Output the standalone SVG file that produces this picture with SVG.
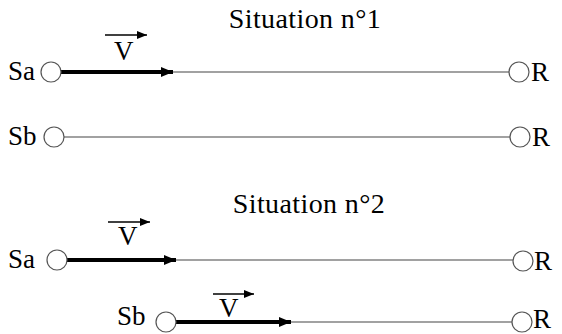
<svg xmlns="http://www.w3.org/2000/svg" width="562" height="334" viewBox="0 0 562 334">
<style>
text{font-family:"Liberation Serif","Times New Roman",serif;font-size:27px;fill:#000}
.title{font-size:28px;letter-spacing:0.4px}
.node{fill:#fff;stroke:#555;stroke-width:1.2}
.thin{stroke:#444;stroke-width:1.2;fill:none}
.thick{stroke:#000;stroke-width:4;fill:none}
.vbar{stroke:#000;stroke-width:1.5;fill:none}
</style>
<defs>
<marker id="ah" viewBox="0 0 12 10" refX="12" refY="5" markerWidth="12" markerHeight="10" markerUnits="userSpaceOnUse" orient="auto"><path d="M0,0 L12,5 L0,10 Z" fill="#000"/></marker>
<marker id="ahs" viewBox="0 0 10 8" refX="10" refY="4" markerWidth="10" markerHeight="8" markerUnits="userSpaceOnUse" orient="auto"><path d="M0,0 L10,4 L0,8 Z" fill="#000"/></marker>
</defs>
<g id="titles">
<text class="title" x="305" y="28" text-anchor="middle">Situation n°1</text>
<text class="title" x="309" y="213" text-anchor="middle">Situation n°2</text>
</g>
<g id="connectors">
<line class="thin" x1="170" y1="72" x2="509" y2="72"/>
<line class="thick" x1="61" y1="72" x2="173" y2="72" marker-end="url(#ah)"/>
<line class="vbar" x1="105" y1="35" x2="147" y2="35" marker-end="url(#ahs)"/>
<line class="thin" x1="64" y1="137" x2="510" y2="137"/>
<line class="thin" x1="173" y1="260" x2="513" y2="260"/>
<line class="thick" x1="67" y1="260" x2="176" y2="260" marker-end="url(#ah)"/>
<line class="vbar" x1="108" y1="222" x2="150" y2="222" marker-end="url(#ahs)"/>
<line class="thin" x1="288" y1="322" x2="512" y2="322"/>
<line class="thick" x1="176" y1="322" x2="291" y2="322" marker-end="url(#ah)"/>
<line class="vbar" x1="213" y1="294" x2="254" y2="294" marker-end="url(#ahs)"/>
</g>
<g id="v1"><text x="114" y="60">V</text></g>
<g id="v2"><text x="118" y="245">V</text></g>
<g id="v3"><text x="219" y="317">V</text></g>
<g id="sa1"><text x="8" y="80">Sa</text><circle class="node" cx="51" cy="72" r="10"/></g>
<g id="r1"><circle class="node" cx="519" cy="72" r="10"/><text x="531" y="81">R</text></g>
<g id="sb1"><text x="8" y="145">Sb</text><circle class="node" cx="54" cy="137" r="10"/></g>
<g id="r2"><circle class="node" cx="520" cy="137" r="10"/><text x="532" y="146">R</text></g>
<g id="sa2"><text x="8" y="268">Sa</text><circle class="node" cx="57" cy="260" r="10"/></g>
<g id="r3"><circle class="node" cx="523" cy="261" r="10"/><text x="534" y="270">R</text></g>
<g id="sb2"><text x="117" y="325">Sb</text><circle class="node" cx="166" cy="322" r="10"/></g>
<g id="r4"><circle class="node" cx="522" cy="322" r="10"/><text x="533" y="328">R</text></g>
</svg>
